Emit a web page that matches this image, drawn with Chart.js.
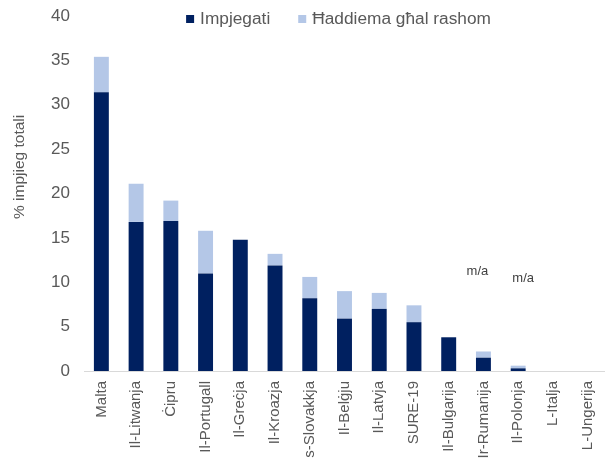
<!DOCTYPE html>
<html>
<head>
<meta charset="utf-8">
<script src="https://cdn.jsdelivr.net/npm/chart.js@4/dist/chart.umd.min.js"></script>
<style>
  html, body { margin: 0; padding: 0; background: #fff; }
</style>
</head>
<body>
<canvas id="grafiku" width="605" height="466"></canvas>
<script>
const pajjizi = ['Malta', 'Il-Litwanja', 'Ċipru', 'Il-Portugall', 'Il-Greċja', 'Il-Kroazja', 's-Slovakkja',
    'Il-Belġju', 'Il-Latvja', 'SURE-19', 'Il-Bulgarija', 'Ir-Rumanija', 'Il-Polonja', 'L-Italja', 'L-Ungerija'];
const impjegati = [31.4, 16.8, 16.9, 11.0, 14.8, 11.9, 8.2, 5.9, 7.0, 5.5, 3.8, 1.5, 0.3, 0, 0];
const haddiema = [4.0, 4.3, 2.3, 4.8, 0, 1.3, 2.4, 3.1, 1.8, 1.9, 0, 0.7, 0.3, 0, 0];
const yTicks = [0, 5, 10, 15, 20, 25, 30, 35, 40];
const titoluY = '% impjieg totali';
// "m/a" notes: category index, y value, small x nudge
const nota = [
    { idx: 11, valur: 11.2, bidla: -6 },
    { idx: 12, valur: 10.4, bidla: 5 }
];

const griz = '#595959';
const fonti = '"Liberation Sans", Arial, sans-serif';

const notaPlugin = {
    id: 'nota',
    afterDatasetsDraw(chart) {
        const ctx = chart.ctx;
        const x = chart.scales.x;
        const y = chart.scales.y;
        ctx.save();
        ctx.font = '13px ' + fonti;
        ctx.fillStyle = '#404040';
        ctx.textAlign = 'center';
        ctx.textBaseline = 'middle';
        nota.forEach((n) => {
            ctx.fillText('m/a', x.getPixelForValue(n.idx) + n.bidla, y.getPixelForValue(n.valur));
        });
        // y axis title sits a bit above the middle in the original
        ctx.font = '15.5px ' + fonti;
        ctx.fillStyle = griz;
        ctx.translate(20, y.getPixelForValue(23.0));
        ctx.rotate(-Math.PI / 2);
        ctx.fillText(titoluY, 0, 0);
        ctx.restore();
    }
};

// legend drawn inside the plot area, like the original
const legendaPlugin = {
    id: 'legenda',
    afterDraw(chart) {
        const ctx = chart.ctx;
        const area = chart.chartArea;
        const sets = chart.data.datasets;
        const kaxxa = 8, spazju = 6, bejn = 28;
        ctx.save();
        ctx.font = '17.3px ' + fonti;
        const wisa = sets.map((d) => ctx.measureText(d.label).width);
        let total = 0;
        wisa.forEach((w, i) => { total += kaxxa + spazju + w + (i < wisa.length - 1 ? bejn : 0); });
        let x = (area.left + area.right) / 2 - total / 2 - 6;
        const y = 19;
        ctx.textBaseline = 'middle';
        sets.forEach((d, i) => {
            ctx.fillStyle = d.backgroundColor;
            ctx.fillRect(x, y - kaxxa / 2, kaxxa, kaxxa);
            x += kaxxa + spazju;
            ctx.fillStyle = griz;
            ctx.fillText(d.label, x, y);
            x += wisa[i] + bejn;
        });
        ctx.restore();
    }
};

new Chart(document.getElementById('grafiku').getContext('2d'), {
    type: 'bar',
    data: {
        labels: pajjizi,
        datasets: [{
            label: 'Impjegati',
            data: impjegati,
            backgroundColor: '#002060',
            categoryPercentage: 1,
            barPercentage: 0.43,
        }, {
            label: 'Ħaddiema għal rashom',
            data: haddiema,
            backgroundColor: '#B4C7E7',
            categoryPercentage: 1,
            barPercentage: 0.43,
        }],
    },
    options: {
        responsive: false,
        animation: false,
        layout: { padding: 0 },
        plugins: {
            tooltip: { enabled: false },
            legend: { display: false },
        },
        scales: {
            x: {
                stacked: true,
                grid: { display: false, drawTicks: false },
                border: { color: '#d9d9d9' },
                afterFit: (s) => { s.height = 95; s.paddingLeft = 0; s.paddingRight = 0; },
                ticks: {
                    color: griz,
                    maxRotation: 90,
                    minRotation: 90,
                    autoSkip: false,
                    padding: 10,
                    font: { family: fonti, size: 15 },
                },
            },
            y: {
                stacked: true,
                min: 0,
                max: 40,
                afterBuildTicks: (axis) => { axis.ticks = yTicks.map((v) => ({ value: v })); },
                afterFit: (s) => { s.width = 84; s.paddingTop = 16; },
                grid: { display: false, drawTicks: false },
                border: { display: false },
                ticks: {
                    color: griz,
                    padding: 14,
                    font: { family: fonti, size: 17 },
                },
            },
        },
    },
    plugins: [notaPlugin, legendaPlugin],
});
</script>
</body>
</html>
